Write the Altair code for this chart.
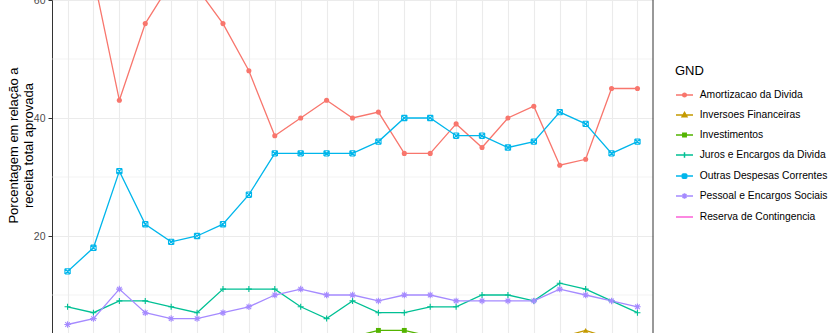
import altair as alt
import pandas as pd

# ---------------- data ----------------
years = list(range(2000, 2023))
series_names = [
    "Amortizacao da Divida",
    "Inversoes Financeiras",
    "Investimentos",
    "Juros e Encargos da Divida",
    "Outras Despesas Correntes",
    "Pessoal e Encargos Sociais",
    "Reserva de Contingencia",
]
amortizacao = [66, 64, 43, 56, 63, 62, 56, 48, 37, 40, 43, 40, 41, 34, 34, 39, 35, 40, 42, 32, 33, 45, 45]
inversoes = [1, 1, 3, 1, 1, 1, 1, 2, 3, 3, 1, 1, 1, 2, 3, 3, 1, 1, 1, 2.8, 4, 2.6, 1]
investimentos = [2, 2, 2, 1, 1, 1, 2, 2, 2, 2, 2, 2.9, 4, 4, 3, 2, 2, 2, 2, 2, 2, 2, 2]
juros = [8, 7, 9, 9, 8, 7, 11, 11, 11, 8, 6, 9, 7, 7, 8, 8, 10, 10, 9, 12, 11, 9, 7]
outras = [14, 18, 31, 22, 19, 20, 22, 27, 34, 34, 34, 34, 36, 40, 40, 37, 37, 35, 36, 41, 39, 34, 36]
pessoal = [5, 6, 11, 7, 6, 6, 7, 8, 10, 11, 10, 10, 9, 10, 10, 9, 9, 9, 9, 11, 10, 9, 8]
reserva = [1, 1, 1, 1, 1, 1, 1, 0, 0, 0, 0, 0, 0, 0, 0, 0, 0, 0, 0, 0, 0, 0, 0]

minor_grid = [10, 30, 50]
major_ticks = [20, 40, 60]

colors = ["#F8766D", "#C49A00", "#53B400", "#00C094", "#00B6EB", "#A58AFF", "#FB61D7"]

all_series = [amortizacao, inversoes, investimentos, juros, outras, pessoal, reserva]
rows = []
for name, vals in zip(series_names, all_series):
    for yr, v in zip(years, vals):
        rows.append({"Ano": yr, "Valor": v, "GND": name})
df = pd.DataFrame(rows)

FONT = "Liberation Sans"
W, H = 601, 333

x_enc = alt.X(
    "Ano:O",
    scale=alt.Scale(type="point", padding=0.6),
    axis=alt.Axis(labels=False, ticks=False, domain=False, title=None,
                  grid=True, gridColor="#EBEBEB", gridWidth=1.1),
)
y_enc = alt.Y(
    "Valor:Q",
    scale=alt.Scale(domain=[3.56, 60], nice=False, zero=False),
    axis=alt.Axis(
        values=major_ticks,
        title=["Porcentagem em relação a", "receita total aprovada"],
        titleFont=FONT, titleFontSize=13, titleFontWeight="normal", titleColor="#000000",
        titleX=-45, titleY=145, titleBaseline="top", titleAngle=270, titleAlign="center",
        titleLineHeight=15,
        labelFont=FONT, labelFontSize=10.5, labelColor="#4D4D4D", labelPadding=3,
        tickSize=4, tickColor="#333333", tickWidth=1,
        domainColor="#333333", domainWidth=1,
        gridColor="#EBEBEB", gridWidth=1.1,
    ),
)
# data-driven (alphabetical) domain for the line/marker colour scale
color_scale = alt.Scale(range=colors)
c_enc = alt.Color("GND:N", scale=color_scale, legend=None)

# minor grid
minor = alt.Chart(pd.DataFrame({"Valor": minor_grid})).mark_rule(
    color="#EBEBEB", strokeWidth=0.6
).encode(y=y_enc)

lines = alt.Chart(df).mark_line(strokeWidth=1.3, clip=True).encode(
    x=x_enc, y=y_enc, color=c_enc
)

plus_p = "M-1,0L1,0M0,-1L0,1"
boxx_p = "M-1,-1L1,-1M1,-1L1,1M1,1L-1,1M-1,1L-1,-1M-1,-1L1,1M-1,1L1,-1"
ast_p = "M-1,0L1,0M0,-1L0,1M-0.71,-0.71L0.71,0.71M-0.71,0.71L0.71,-0.71"

marker_specs = [
    ("Amortizacao da Divida", "circle", True, 26),
    ("Inversoes Financeiras", "triangle-up", True, 32),
    ("Investimentos", "square", True, 24),
    ("Juros e Encargos da Divida", plus_p, False, 36),
    ("Outras Despesas Correntes", boxx_p, False, 28),
    ("Pessoal e Encargos Sociais", ast_p, False, 42),
]
marker_layers = []
for name, shp, filled, sz in marker_specs:
    marker_layers.append(
        alt.Chart(df).transform_filter(alt.datum.GND == name).mark_point(
            shape=shp, filled=filled, size=sz, opacity=1, strokeWidth=1.1, clip=True
        ).encode(x=x_enc, y=y_enc, color=c_enc)
    )

# legend symbols: key line + small marker
L = "M-1,0L1,0"
leg_paths = [
    L + "M-0.22,0A0.22,0.22,0,1,0,0.22,0A0.22,0.22,0,1,0,-0.22,0Z",
    L + "M0,-0.3L0.28,0.2L-0.28,0.2Z",
    L + "M-0.2,-0.2L0.2,-0.2L0.2,0.2L-0.2,0.2Z",
    L + "M0,-0.32L0,0.32",
    L + "M-0.25,-0.25L0.25,-0.25M0.25,-0.25L0.25,0.25M0.25,0.25L-0.25,0.25M-0.25,0.25L-0.25,-0.25M-0.25,-0.25L0.25,0.25M-0.25,0.25L0.25,-0.25",
    L + "M0,-0.32L0,0.32M-0.23,-0.23L0.23,0.23M-0.23,0.23L0.23,-0.23",
    L,
]
leg = alt.Legend(
    title="GND", orient="none", legendX=623, legendY=65,
    titleFont=FONT, titleFontSize=13, titleFontWeight="normal", titleColor="#000000",
    titlePadding=7.5,
    labelFont=FONT, labelFontSize=10.3, labelColor="#000000", labelOffset=5.7,
    symbolSize=289, symbolStrokeWidth=1.5, rowPadding=5, padding=0,
)
leg_df = pd.DataFrame({"GND": series_names, "Ano": [years[0]] * len(series_names),
                       "Valor": [-50] * len(series_names)})
legend_layer = alt.Chart(leg_df).mark_point(
    filled=True, opacity=1, size=289, strokeWidth=1.5, clip=True
).encode(
    x=x_enc, y=y_enc,
    fill=alt.Fill("GND:N", scale=alt.Scale(domain=series_names, range=colors), legend=leg),
    stroke=alt.Stroke("GND:N", scale=alt.Scale(domain=series_names, range=colors), legend=leg),
    shape=alt.Shape("GND:N", scale=alt.Scale(domain=series_names, range=leg_paths), legend=leg),
)

right_border = alt.Chart(pd.DataFrame({"a": [0]})).mark_rule(
    color="#333333", strokeWidth=1
).encode(x=alt.value(W), y=alt.value(0), y2=alt.value(H))

chart = alt.layer(minor, lines, *marker_layers, legend_layer, right_border).properties(
    width=W, height=H,
    autosize=alt.AutoSizeParams(type="none"),
    padding={"left": 52, "top": 0, "right": 840 - 52 - W, "bottom": 0},
    background="white",
).configure_view(stroke=None)

chart.save("out.html", embed_options={"renderer": "svg", "actions": False})
